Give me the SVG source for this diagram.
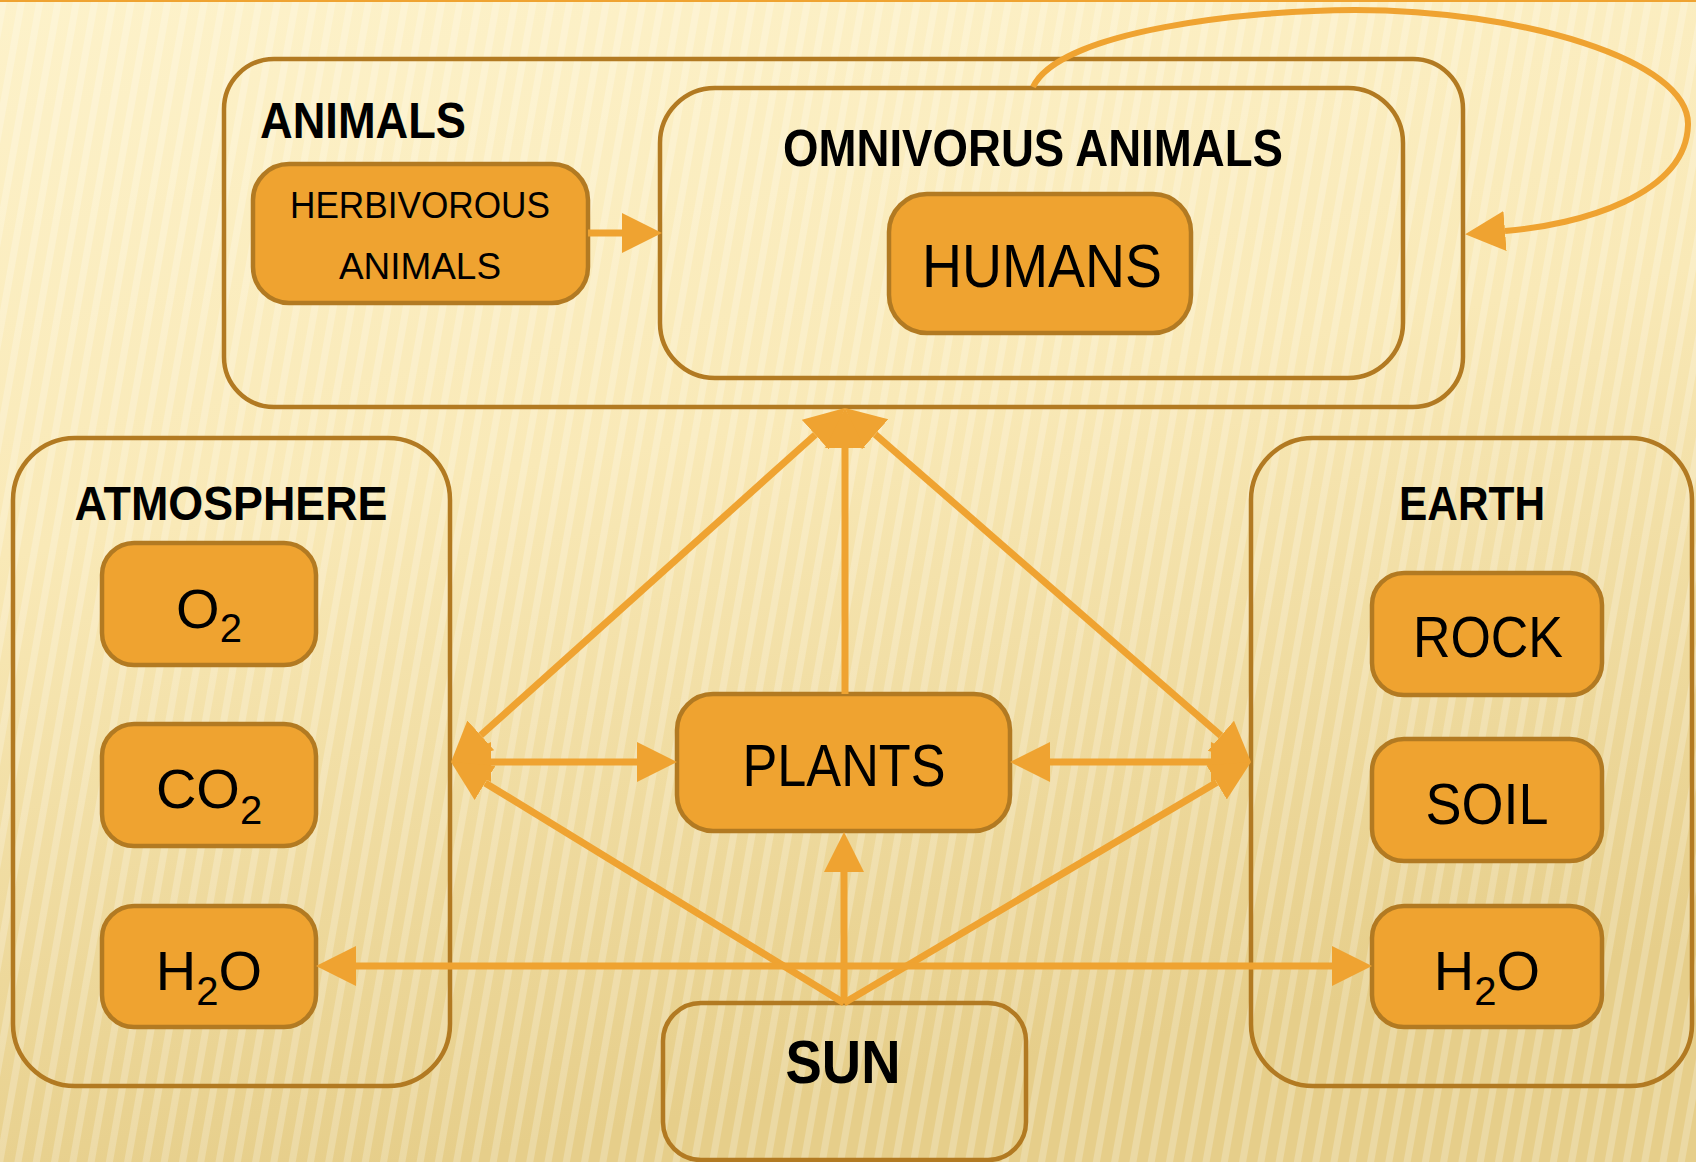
<svg xmlns="http://www.w3.org/2000/svg" width="1696" height="1162" viewBox="0 0 1696 1162">
<defs>
<linearGradient id="bg" x1="0" y1="0" x2="0.25" y2="1">
<stop offset="0" stop-color="#FDF2CA"/>
<stop offset="0.45" stop-color="#F9E9B7"/>
<stop offset="1" stop-color="#E6CE8A"/>
</linearGradient>
<pattern id="stripes" width="18" height="18" patternUnits="userSpaceOnUse" patternTransform="rotate(10)">
<rect width="7" height="18" fill="#FFFFFF" opacity="0.22"/>
</pattern>
<marker id="ah" markerUnits="userSpaceOnUse" markerWidth="42" markerHeight="42" viewBox="0 -21 42 42" refX="0" refY="0" orient="auto-start-reverse">
<path d="M0,-20 L40,0 L0,20 z" fill="#EFA331"/>
</marker>
<style>
.box{fill:#EFA330;stroke:#B27A22;stroke-width:4.5}
.grp{fill:none;stroke:#B27A22;stroke-width:4.5}
.conn{fill:none;stroke:#EFA331;stroke-width:7}
text{font-family:"Liberation Sans",Arial,sans-serif;fill:#000}
.b{font-weight:bold}
</style>
</defs>
<rect width="1696" height="1162" fill="url(#bg)"/>
<rect width="1696" height="1162" fill="url(#stripes)"/>
<line x1="0" y1="1" x2="1696" y2="1" stroke="#EFA331" stroke-width="2"/>

<g id="animals">
<rect class="grp" x="224" y="59" width="1239" height="348" rx="50"/>
<text class="b" x="260" y="138" font-size="50" textLength="206" lengthAdjust="spacingAndGlyphs">ANIMALS</text>
</g>
<g id="omnivorous">
<rect class="grp" x="660" y="88" width="743" height="290" rx="55"/>
<text class="b" x="1033" y="166" font-size="52" text-anchor="middle" textLength="500" lengthAdjust="spacingAndGlyphs">OMNIVORUS ANIMALS</text>
</g>
<g id="herbivorous">
<rect class="box" x="253" y="164" width="335" height="139" rx="36"/>
<text x="420" y="218" font-size="36" text-anchor="middle" textLength="260" lengthAdjust="spacingAndGlyphs">HERBIVOROUS</text>
<text x="420" y="279" font-size="36" text-anchor="middle" textLength="162" lengthAdjust="spacingAndGlyphs">ANIMALS</text>
</g>
<g id="humans">
<rect class="box" x="889" y="194" width="302" height="139" rx="38"/>
<text x="1042" y="287" font-size="61" text-anchor="middle" textLength="240" lengthAdjust="spacingAndGlyphs">HUMANS</text>
</g>
<g id="atmosphere">
<rect class="grp" x="13" y="438" width="437" height="648" rx="62"/>
<text class="b" x="231" y="520" font-size="49" text-anchor="middle" textLength="313" lengthAdjust="spacingAndGlyphs">ATMOSPHERE</text>
</g>
<g id="o2">
<rect class="box" x="102" y="543" width="214" height="122" rx="32"/>
<text x="209" y="628" font-size="56" text-anchor="middle">O<tspan dy="14" font-size="40">2</tspan></text>
</g>
<g id="co2">
<rect class="box" x="102" y="724" width="214" height="122" rx="32"/>
<text x="209" y="808" font-size="56" text-anchor="middle">CO<tspan dy="16" font-size="40">2</tspan></text>
</g>
<g id="h2o-atmosphere">
<rect class="box" x="102" y="906" width="214" height="121" rx="32"/>
<text x="209" y="990" font-size="56" text-anchor="middle">H<tspan dy="15" font-size="40">2</tspan><tspan dy="-15">O</tspan></text>
</g>
<g id="earth">
<rect class="grp" x="1251" y="438" width="441" height="648" rx="62"/>
<text class="b" x="1472" y="520" font-size="49" text-anchor="middle" textLength="146" lengthAdjust="spacingAndGlyphs">EARTH</text>
</g>
<g id="rock">
<rect class="box" x="1372" y="573" width="230" height="122" rx="32"/>
<text x="1488" y="657" font-size="58" text-anchor="middle" textLength="150" lengthAdjust="spacingAndGlyphs">ROCK</text>
</g>
<g id="soil">
<rect class="box" x="1372" y="739" width="230" height="122" rx="32"/>
<text x="1487" y="824" font-size="58" text-anchor="middle" textLength="123" lengthAdjust="spacingAndGlyphs">SOIL</text>
</g>
<g id="h2o-earth">
<rect class="box" x="1372" y="906" width="230" height="121" rx="32"/>
<text x="1487" y="990" font-size="56" text-anchor="middle">H<tspan dy="15" font-size="40">2</tspan><tspan dy="-15">O</tspan></text>
</g>
<g id="plants">
<rect class="box" x="677" y="694" width="333" height="137" rx="36"/>
<text x="844" y="786" font-size="60" text-anchor="middle" textLength="203" lengthAdjust="spacingAndGlyphs">PLANTS</text>
</g>
<g id="sun">
<rect class="grp" x="663" y="1003" width="363" height="157" rx="38"/>
<text class="b" x="843" y="1083" font-size="61" text-anchor="middle" textLength="115" lengthAdjust="spacingAndGlyphs">SUN</text>
</g>

<g id="connectors">
<line class="conn" x1="588" y1="233" x2="622" y2="233" marker-end="url(#ah)"/>
<path class="conn" style="stroke-width:6" d="M1033,87 C1060,30 1250,10 1355,10 C1520,10 1690,60 1688,125 C1686,195 1580,225 1505,231" marker-end="url(#ah)"/>
<line class="conn" x1="480.75" y1="735.27" x2="815.25" y2="434.73" marker-start="url(#ah)" marker-end="url(#ah)"/>
<line class="conn" x1="1220.85" y1="735.72" x2="875.15" y2="434.28" marker-start="url(#ah)" marker-end="url(#ah)"/>
<line class="conn" x1="845" y1="694" x2="845" y2="448" marker-end="url(#ah)"/>
<line class="conn" x1="491" y1="762" x2="637" y2="762" marker-start="url(#ah)" marker-end="url(#ah)"/>
<line class="conn" x1="1050" y1="762" x2="1211" y2="762" marker-start="url(#ah)" marker-end="url(#ah)"/>
<line class="conn" x1="844" y1="1003" x2="485.1" y2="782.9" marker-end="url(#ah)"/>
<line class="conn" x1="844" y1="1003" x2="1216.6" y2="782.4" marker-end="url(#ah)"/>
<line class="conn" x1="844" y1="1003" x2="844" y2="872" marker-end="url(#ah)"/>
<line class="conn" x1="356" y1="966" x2="1332" y2="966" marker-start="url(#ah)" marker-end="url(#ah)"/>
</g>
</svg>
